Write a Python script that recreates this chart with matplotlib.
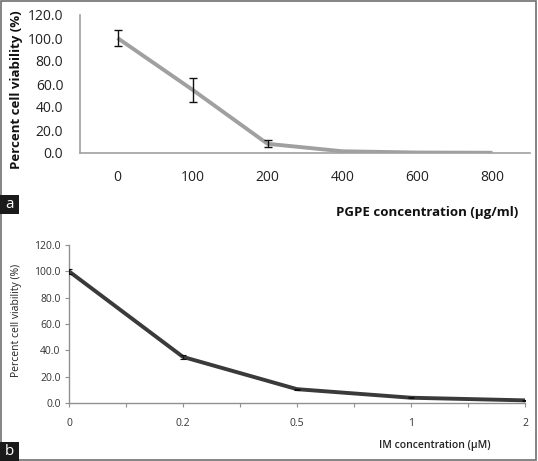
import matplotlib
matplotlib.use("Agg")
import matplotlib.pyplot as plt
from matplotlib.patches import Rectangle
import numpy as np

# Panel a data
a_labels = ["0", "100", "200", "400", "600", "800"]
a_values = [100.0, 55.0, 8.0, 1.5, 0.4, 0.2]
a_errors = [7.0, 10.5, 3.0, 0.0, 0.0, 0.0]

# Panel b data
b_labels = ["0", "0.2", "0.5", "1", "2"]
b_values = [100.0, 35.0, 10.5, 4.0, 2.0]
b_errors = [2.0, 1.5, 0.5, 0.3, 0.3]

yticks = [0, 20, 40, 60, 80, 100, 120]

W, H = 538, 461
fig = plt.figure(figsize=(W / 100, H / 100), dpi=100)
fig.patch.set_facecolor("white")

FONT = "Open Sans"

def fx(px):
    return px / W

def fy(py):
    return 1 - py / H

# ---------- Panel a ----------
axa = fig.add_axes([fx(80), fy(153), fx(450), (153 - 15) / H])
xa = np.arange(len(a_labels))
axa.plot(xa, a_values, color="#a0a0a0", lw=2.8, solid_capstyle="butt", zorder=2)
idx = [i for i, e in enumerate(a_errors) if e > 0]
axa.errorbar([xa[i] for i in idx], [a_values[i] for i in idx],
             yerr=[a_errors[i] for i in idx], fmt="none", ecolor="#111111",
             elinewidth=1.0, capsize=3, capthick=1.0, zorder=3)
axa.set_xlim(-0.5, len(a_labels) - 0.5)
axa.set_ylim(0, 120)
axa.set_yticks(yticks)
axa.set_yticklabels([f"{v:.1f}" for v in yticks], fontsize=10, family=FONT)
axa.set_xticks(xa)
axa.set_xticklabels(a_labels, fontsize=10, family=FONT)
for s in ["top", "right"]:
    axa.spines[s].set_visible(False)
for s in ["left", "bottom"]:
    axa.spines[s].set_color("#a0a0a0")
    axa.spines[s].set_linewidth(1.2)
axa.tick_params(axis="both", length=0, colors="#222222")
axa.tick_params(axis="y", pad=12)
axa.tick_params(axis="x", pad=12)
axa.set_facecolor("none")
fig.text(fx(17), fy(90), "Percent cell viability (%)", rotation=90,
         ha="center", va="center", fontsize=9.5, fontweight="bold", family=FONT,
         color="#111111")
fig.text(fx(518), fy(212), "PGPE concentration (μg/ml)", ha="right",
         va="center", fontsize=9.5, fontweight="bold", family=FONT, color="#111111")

# ---------- Panel b ----------
axb = fig.add_axes([fx(69), fy(403), fx(456), (403 - 245) / H])
xb = np.arange(len(b_labels))
axb.plot(xb, b_values, color="#3a3a3a", lw=2.8, zorder=2)
axb.errorbar(xb, b_values, yerr=b_errors, fmt="none", ecolor="#111111",
             elinewidth=0.8, capsize=2.5, capthick=0.8, zorder=3)
axb.set_xlim(0, len(b_labels) - 1)
axb.set_ylim(0, 120)
axb.set_yticks(yticks)
axb.set_yticklabels([f"{v:.1f}" for v in yticks], fontsize=7.5, family=FONT)
axb.set_xticks(xb)
axb.set_xticklabels(b_labels, fontsize=7.5, family=FONT)
axb.set_xticks(xb[:-1] + 0.5, minor=True)
for s in ["top", "right"]:
    axb.spines[s].set_visible(False)
for s in ["left", "bottom"]:
    axb.spines[s].set_color("#909090")
    axb.spines[s].set_linewidth(1.0)
axb.tick_params(axis="both", which="both", direction="out", length=3,
                width=0.8, color="#909090", labelcolor="#333333")
axb.tick_params(axis="x", pad=8)
axb.tick_params(axis="y", pad=3)
axb.set_facecolor("none")
fig.text(fx(17), fy(320), "Percent cell viability (%)", rotation=90,
         ha="center", va="center", fontsize=7.5, family=FONT, color="#222222")
fig.text(fx(435), fy(445), "IM concentration (μM)", ha="center", va="center",
         fontsize=7.5, fontweight="semibold", family=FONT, color="#222222")

# ---------- Panel labels and border ----------
for lab, y0, y1 in [("a", 195, 214), ("b", 442, 461)]:
    fig.patches.append(Rectangle((0, fy(y1)), fx(19), (y1 - y0) / H,
                                 transform=fig.transFigure, facecolor="#1a1a1a",
                                 edgecolor="none", zorder=5))
    fig.text(fx(9.5), fy((y0 + y1) / 2), lab, ha="center", va="center",
             fontsize=11, color="white", family=FONT, zorder=6)

fig.patches.append(Rectangle((fx(1), fy(460)), fx(535), 459 / H,
                             transform=fig.transFigure, facecolor="none",
                             edgecolor="#707070", lw=1.2, zorder=4))

fig.savefig("out.png", dpi=100, facecolor="white")
